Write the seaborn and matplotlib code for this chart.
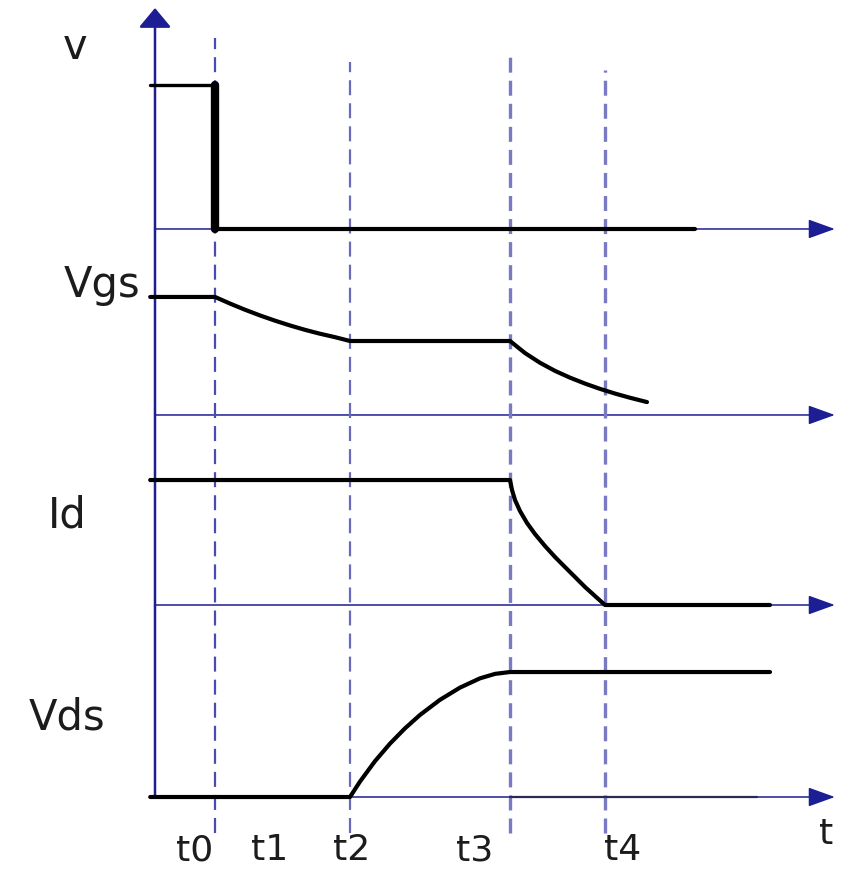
import numpy as np
import pandas as pd
import seaborn as sns
import matplotlib.pyplot as plt

sns.set_style("white")
plt.rcParams['font.family'] = ['DejaVu Sans']

# time markers (t0..t4) in arbitrary time units
t_names = ['t0', 't1', 't2', 't3', 't4']
t_marks = [1.0, 3.25, 5.917, 7.5]          # t0, t2, t3, t4 (t1 has no line)
t_label_x = [0.667, 1.917, 3.283, 5.333, 7.8]

# waveforms (time, level above the trace's own baseline)
v_time = [-0.08, 1.0]
v_high = [2.4, 2.4]
v_low_time = [1.0, 9.0]
v_low = [0.0, 0.0]

vgs_time = [-0.08, 1.0, 1.25, 1.5, 1.75, 2.0, 2.25, 2.5, 2.75, 3.0, 3.25,
            5.917, 6.167, 6.417, 6.667, 6.917, 7.167, 7.417, 7.667, 7.917, 8.2]
vgs_val = [1.967, 1.967, 1.857, 1.754, 1.659, 1.572, 1.492, 1.419, 1.354, 1.297, 1.233,
           1.233, 1.032, 0.870, 0.735, 0.622, 0.523, 0.435, 0.357, 0.287, 0.215]

id_time = [-0.08, 5.917, 5.95, 6.0, 6.083, 6.2, 6.333, 6.5, 6.667, 6.833, 7.0,
           7.167, 7.333, 7.5, 10.25]
id_val = [2.083, 2.083, 1.917, 1.75, 1.567, 1.367, 1.183, 0.983, 0.8, 0.633, 0.467,
          0.3, 0.15, 0.0, 0.0]

vds_time = [-0.08, 3.25, 3.417, 3.667, 3.917, 4.167, 4.417, 4.75, 5.083, 5.417, 5.667,
            5.917, 10.25]
vds_val = [0.0, 0.0, 0.258, 0.598, 0.89, 1.145, 1.368, 1.62, 1.823, 1.978, 2.052,
           2.083, 2.083]

signal_names = ['v', 'Vgs', 'Id', 'Vds']

# layout: baseline of each trace, and top of each dashed marker line
baseline = {'v': 9.467, 'Vgs': 6.367, 'Id': 3.2, 'Vds': 0.0}
dash_top = [12.65, 12.25, 12.367, 12.117]
dash_bottom = -0.6
axis_end = 11.33

navy = '#1e1e94'
fig = plt.figure(figsize=(8.44, 8.72), dpi=100)
ax = fig.add_axes([0, 0, 1, 1])
ax.set_xlim(-155 / 60, 689 / 60)
ax.set_ylim(-75 / 60, 797 / 60)
ax.axis('off')

# vertical axis with arrow
ax.annotate('', xy=(0, 13.15), xytext=(0, 0),
            arrowprops=dict(arrowstyle='-|>,head_length=0.6,head_width=0.5', color=navy,
                            lw=1.8, mutation_scale=20, shrinkA=0, shrinkB=0), zorder=2)
# horizontal axes (one per trace)
for name in signal_names:
    b = baseline[name]
    ax.annotate('', xy=(axis_end, b), xytext=(0, b),
                arrowprops=dict(arrowstyle='-|>,head_length=0.83,head_width=0.3', color=navy,
                                lw=1.1, mutation_scale=20, shrinkA=0, shrinkB=0), zorder=2)

# dashed time markers
dash_style = [(1.6, '#4a4ab0'), (1.6, '#6a6abc'), (2.4, '#7a7ac4'), (2.4, '#7a7ac4')]
for tm, top, (lw, col) in zip(t_marks, dash_top, dash_style):
    ax.plot([tm, tm], [dash_bottom, top], color=col, lw=lw, dashes=(10.8 / lw, 5.8 / lw),
            zorder=3)

# waveforms
kw = dict(ax=ax, color='black', estimator=None, sort=False, legend=False, zorder=4,
          solid_joinstyle='round', solid_capstyle='round')
sns.lineplot(x=v_time, y=np.array(v_high) + baseline['v'], lw=2.4, **kw)
sns.lineplot(x=[v_time[-1], v_low_time[0]], y=[v_high[-1] + baseline['v'], v_low[0] + baseline['v']],
             lw=6, **kw)
sns.lineplot(x=v_low_time, y=np.array(v_low) + baseline['v'], lw=3, **kw)
sns.lineplot(x=vgs_time, y=np.array(vgs_val) + baseline['Vgs'], lw=3, **kw)
sns.lineplot(x=id_time, y=np.array(id_val) + baseline['Id'], lw=3, **kw)
sns.lineplot(x=vds_time, y=np.array(vds_val) + baseline['Vds'], lw=3, **kw)
# darker trace over the Vds axis after t3
ax.plot([t_marks[2], 10.03], [baseline['Vds'], baseline['Vds']], color='#2a2a55', lw=1.6, zorder=3)

# labels
txt = dict(color='#1c1c1c', fontsize=30)
ax.text(-1.333, 12.5, 'v', ha='center', va='center', **txt)
ax.text(-0.25, 8.333, 'Vgs', ha='right', va='baseline', **txt)
ax.text(-1.467, 4.7, 'Id', ha='center', va='center', **txt)
ax.text(-1.467, 1.317, 'Vds', ha='center', va='center', **txt)
for name, x in zip(t_names, t_label_x):
    ax.text(x, -1.05, name, ha='center', va='baseline', color='#1c1c1c', fontsize=26)
ax.text(11.18, -0.78, 't', ha='center', va='baseline', color='#1c1c1c', fontsize=26)

fig.savefig('out.png', dpi=100)
